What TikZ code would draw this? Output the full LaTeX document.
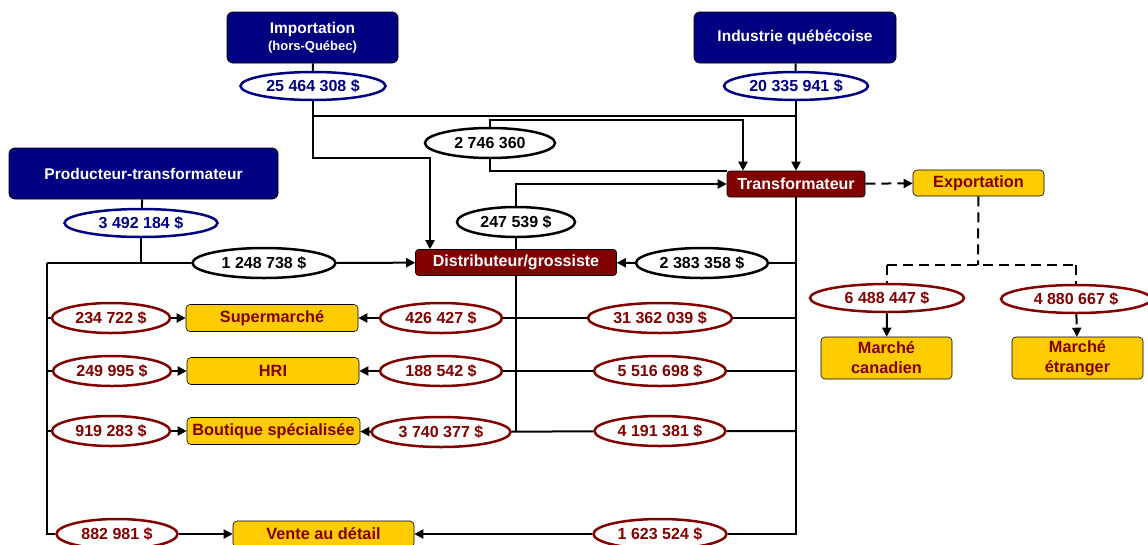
\documentclass[tikz,border=0pt]{standalone}
\usepackage{fontspec}
\setmainfont{Liberation Sans}
\usepackage{xcolor}
\usepackage{tikz}
\usetikzlibrary{shapes.geometric, arrows.meta, positioning}
\definecolor{navybox}{RGB}{0,0,128}
\definecolor{winered}{RGB}{128,0,0}
\definecolor{marketgold}{RGB}{255,204,0}

\tikzset{
    srcbox/.style={draw=black, fill=navybox, text=white, rounded corners=6pt, line width=0.8pt,
        minimum height=51pt, align=center, font=\bfseries\fontsize{15.5}{17}\selectfont},
    procbox/.style={draw=black, fill=winered, text=white, rounded corners=3pt, line width=0.6pt,
        minimum height=26pt, inner sep=0pt, font=\bfseries\fontsize{16}{17}\selectfont},
    mktbox/.style={draw=black, fill=marketgold, text=winered, rounded corners=4pt, line width=0.6pt,
        minimum height=27pt, inner sep=0pt, align=center, font=\bfseries\fontsize{16.3}{20}\selectfont},
    amount/.style={ellipse, fill=white, line width=2.5pt, minimum height=30pt, inner sep=0pt,
        font=\bfseries\fontsize{16}{17}\selectfont},
    blueamt/.style={amount, draw=navybox, text=navybox},
    redamt/.style={amount, draw=winered, text=winered},
    blackamt/.style={amount, draw=black, text=black},
    link/.style={line width=2pt},
    flow/.style={line width=2pt, -{Triangle[length=9pt,width=9pt]}},
    exportlink/.style={line width=2pt, dash pattern=on 10pt off 6pt}
}

\begin{document}
\begin{tikzpicture}[x=1pt, y=-1pt]
    \useasboundingbox (0,0) rectangle (1148,544);

    % sources
    \node[srcbox, minimum width=171pt] (imp) at (312.5,37.5) {Importation\\{\fontsize{13}{15}\selectfont(hors-Québec)}};
    \node[srcbox, minimum width=202pt] (ind) at (795,37.5) {Industrie québécoise};
    \node[srcbox, minimum width=269pt] (prod) at (143.5,173.5) {Producteur-transformateur};

    \node[blueamt, minimum width=145pt, minimum height=28pt] (impval) at (313,86) {25 464 308 \$};
    \node[blueamt, minimum width=144pt, minimum height=28pt] (indval) at (796,86) {20 335 941 \$};
    \node[blueamt, minimum width=153pt, minimum height=28pt] (prodval) at (141,223) {3 492 184 \$};

    % intermediaries
    \node[procbox, minimum width=138pt] (trans) at (796,184) {Transformateur};
    \node[mktbox, minimum width=131pt, minimum height=26pt] (expo) at (978.5,183) {Exportation};
    \node[procbox, minimum width=201pt] (dist) at (516,262.5) {Distributeur/grossiste};

    \node[blackamt, minimum width=130pt] (v2746) at (490,143) {2 746 360};
    \node[blackamt, minimum width=118pt] (v247) at (516,222) {247 539 \$};
    \node[blackamt, minimum width=143pt] (v1248) at (264,263) {1 248 738 \$};
    \node[blackamt, minimum width=132pt] (v2383) at (702,263) {2 383 358 \$};

    % export side
    \node[redamt, minimum width=154pt, minimum height=28pt] (v6488) at (887,298) {6 488 447 \$};
    \node[redamt, minimum width=150pt, minimum height=28pt] (v4880) at (1076,299) {4 880 667 \$};
    \node[mktbox, minimum width=131pt, minimum height=42pt] (mcan) at (886.5,358) {Marché\\canadien};
    \node[mktbox, minimum width=131pt, minimum height=42pt] (metr) at (1077.5,358) {Marché\\étranger};

    % markets
    \node[mktbox, minimum width=172pt] (superm) at (272,318) {Supermarché};
    \node[mktbox, minimum width=172pt] (hri) at (273,371) {HRI};
    \node[mktbox, minimum width=173pt] (bout) at (273.5,431) {Boutique spécialisée};
    \node[mktbox, minimum width=181pt, minimum height=26pt] (vente) at (323.5,534) {Vente au détail};

    \node[redamt, minimum width=118pt] (v234) at (111,318) {234 722 \$};
    \node[redamt, minimum width=118pt] (v249) at (112,371) {249 995 \$};
    \node[redamt, minimum width=118pt] (v919) at (111,431) {919 283 \$};
    \node[redamt, minimum width=121pt] (v882) at (117,534) {882 981 \$};

    \node[redamt, minimum width=122pt] (v426) at (441,318) {426 427 \$};
    \node[redamt, minimum width=122pt] (v188) at (441,371) {188 542 \$};
    \node[redamt, minimum width=139pt] (v3740) at (441,432) {3 740 377 \$};

    \node[redamt, minimum width=144pt] (v31362) at (660,318) {31 362 039 \$};
    \node[redamt, minimum width=132pt] (v5516) at (660,371) {5 516 698 \$};
    \node[redamt, minimum width=131pt] (v4191) at (660,431) {4 191 381 \$};
    \node[redamt, minimum width=133pt] (v1623) at (660,534) {1 623 524 \$};

    \coordinate (topline) at (0,116);
    \coordinate (impbend) at (430,158);
    \coordinate (tbend) at (743,120);
    \coordinate (expbend) at (978,265);
    \coordinate (trunk) at (47,263);

    % upper flows
    \draw[link] (imp) -- (impval);
    \draw[flow] (impval) |- (impbend) -- (impbend |- dist.north);
    \draw[link] (impval.south |- topline) -- (indval.south |- topline);
    \draw[flow] (v2746) |- (tbend) -- (tbend |- trans.north);
    \draw[link] (v2746) |- (trans.north west);
    \draw[link] (ind) -- (indval);
    \draw[flow] (indval) -- (trans);
    \draw[link] (dist) -- (v247);
    \draw[flow] (v247) |- (trans);

    % export
    \draw[flow, exportlink] (trans) -- (expo);
    \draw[exportlink] (expo) -- (expbend);
    \draw[exportlink] (v6488 |- expbend) -- (v4880 |- expbend);
    \draw[exportlink] (v6488 |- expbend) -- (v6488);
    \draw[exportlink] (v4880 |- expbend) -- (v4880);
    \draw[flow] (v6488) -- (mcan);
    \draw[flow, exportlink] (v4880) -- (metr);

    % from transformateur
    \draw[link] (trans) |- (v1623);
    \draw[flow] (v1623) -- (vente);
    \draw[link] (trans.south |- v2383) -- (v2383);
    \draw[flow] (v2383) -- (dist);
    \draw[link] (trans.south |- v31362) -- (v31362) -- (v426);
    \draw[flow] (v426) -- (superm);
    \draw[link] (trans.south |- v5516) -- (v5516) -- (v188);
    \draw[flow] (v188) -- (hri);
    \draw[link] (trans.south |- v4191) -- (v4191) -- (v3740);
    \draw[flow] (v3740) -- (bout);
    \draw[link] (dist) -- (dist.south |- v3740);

    % from producteur
    \draw[link] (prod) -- (prodval);
    \draw[link] (prodval) -- (prodval |- trunk);
    \draw[link] (trunk) -- (v1248);
    \draw[flow] (v1248) -- (dist);
    \draw[link] (trunk) |- (v882);
    \draw[flow] (v882) -- (vente);
    \draw[link] (trunk |- v234) -- (v234);
    \draw[flow] (v234) -- (superm);
    \draw[link] (trunk |- v249) -- (v249);
    \draw[flow] (v249) -- (hri);
    \draw[link] (trunk |- v919) -- (v919);
    \draw[flow] (v919) -- (bout);
\end{tikzpicture}
\end{document}
